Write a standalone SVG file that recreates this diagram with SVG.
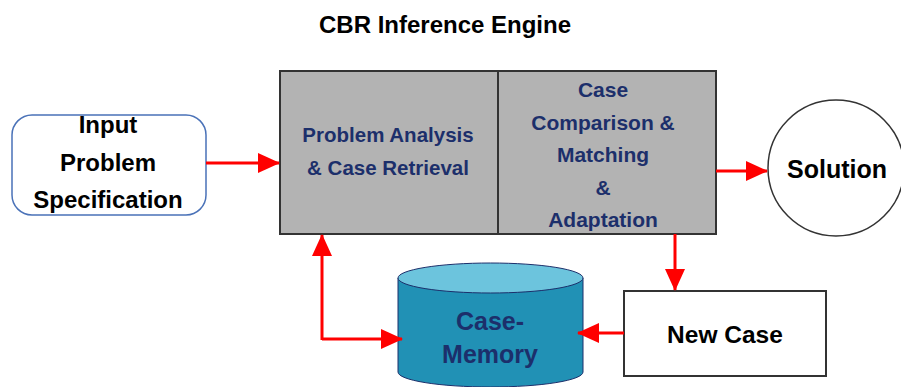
<svg xmlns="http://www.w3.org/2000/svg" width="901" height="387" viewBox="0 0 901 387">
<defs>
<style>
text{font-family:"Liberation Sans",Arial,sans-serif;font-weight:bold;text-anchor:middle}
.blk{fill:#000}
.nv{fill:#1c2f6b}
.conn{stroke:#ff0000;stroke-width:3;fill:none}
</style>
<marker id="ah" markerUnits="userSpaceOnUse" markerWidth="22" markerHeight="20" refX="21" refY="10" orient="auto">
<path d="M0,0 L22,10 L0,20 Z" fill="#ff0000"/>
</marker>
</defs>
<rect width="901" height="387" fill="#fff"/>
<text x="445" y="33" class="blk" font-size="24">CBR Inference Engine</text>

<g id="input">
<rect x="12" y="115" width="194" height="100" rx="20" fill="#fff" stroke="#4a72b8" stroke-width="1.5"/>
<text x="108" y="133" class="blk" font-size="24">Input</text>
<text x="108" y="171" class="blk" font-size="24">Problem</text>
<text x="108" y="208" class="blk" font-size="24">Specification</text>
</g>

<g id="engine">
<rect x="280" y="71" width="436" height="163" fill="#b3b3b3" stroke="#333" stroke-width="2"/>
<line x1="498" y1="71" x2="498" y2="234" stroke="#333" stroke-width="2"/>
</g>
<g id="analysis">
<text x="388" y="142" class="nv" font-size="20.5">Problem Analysis</text>
<text x="388" y="175" class="nv" font-size="20.5">&amp; Case Retrieval</text>
</g>
<g id="matching">
<text x="603" y="97" class="nv" font-size="21">Case</text>
<text x="603" y="130" class="nv" font-size="21">Comparison &amp;</text>
<text x="603" y="162" class="nv" font-size="21">Matching</text>
<text x="603" y="195" class="nv" font-size="21">&amp;</text>
<text x="603" y="227" class="nv" font-size="21">Adaptation</text>
</g>

<g id="solution">
<circle cx="836" cy="168" r="68" fill="#fff" stroke="#333" stroke-width="1.5"/>
<text x="837" y="178" class="blk" font-size="25">Solution</text>
</g>

<g id="newcase">
<rect x="624" y="291" width="202" height="85" fill="#fff" stroke="#333" stroke-width="2"/>
<text x="725" y="343" class="blk" font-size="24.5">New Case</text>
</g>

<g id="memory">
<path d="M398,278 L398,372 A92.5,15 0 0 0 583,372 L583,278" fill="#2191b5" stroke="#1c2f6b" stroke-width="1"/>
<ellipse cx="490.5" cy="278" rx="92.5" ry="15" fill="#6cc4dd" stroke="#1c2f6b" stroke-width="1"/>
<text x="490" y="330" class="nv" font-size="25">Case-</text>
<text x="490" y="363" class="nv" font-size="25">Memory</text>
</g>

<g id="connectors">
<line class="conn" x1="206" y1="163" x2="279" y2="163" marker-end="url(#ah)"/>
<line class="conn" x1="716" y1="171" x2="767" y2="171" marker-end="url(#ah)"/>
<line class="conn" x1="675" y1="234" x2="675" y2="290" marker-end="url(#ah)"/>
<line class="conn" x1="624" y1="333" x2="578" y2="333" marker-end="url(#ah)"/>
<path class="conn" d="M322,340 L322,235" marker-end="url(#ah)"/>
<path class="conn" d="M322,339 L402,339" marker-end="url(#ah)"/>
</g>
</svg>
